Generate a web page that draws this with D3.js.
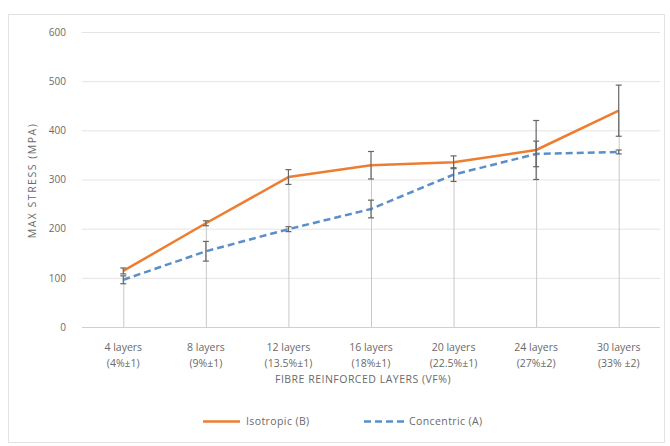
<!DOCTYPE html>
<html>
<head>
<meta charset="utf-8">
<script src="https://cdn.jsdelivr.net/npm/d3@7/dist/d3.min.js"></script>
<style>
  html, body { margin: 0; padding: 0; background: #fff; }
  svg { display: block; font-family: "Open Sans", "Liberation Sans", sans-serif; }
</style>
</head>
<body>
<svg id="chart" width="670" height="446"></svg>
<script>
// Category labels (two lines each)
const categories = ["4 layers", "8 layers", "12 layers", "16 layers", "20 layers", "24 layers", "30 layers"];
const vfLabels = ["(4%±1)", "(9%±1)", "(13.5%±1)", "(18%±1)", "(22.5%±1)", "(27%±2)", "(33% ±2)"];

// Max stress (MPa) and error bar half-widths
const isotropic = [114, 211, 305, 329, 335, 360, 440];
const isotropicErr = [6, 5, 15, 28, 13, 60, 52];
const concentric = [96, 154, 199, 240, 310, 352, 356];
const concentricErr = [8, 20, 5, 18, 14, 26, 4];

const yTicks = [0, 100, 200, 300, 400, 500, 600];

const svg = d3.select("#chart");
const margin = { left: 82, right: 660, top: 32, bottom: 327 };
const textColor = "#6a6a6a";

// chart frame
svg.append("rect")
  .attr("x", 8.5).attr("y", 14.5).attr("width", 656).attr("height", 428)
  .attr("fill", "#fff").attr("stroke", "#e3e3e3");

const x = d3.scaleBand().domain(categories).range([margin.left, margin.right]);
const y = d3.scaleLinear().domain([0, 600]).range([margin.bottom, margin.top]);
const cx = c => x(c) + x.bandwidth() / 2;

// gridlines
svg.append("g").selectAll("line").data(yTicks.filter(t => t > 0)).join("line")
  .attr("x1", margin.left).attr("x2", margin.right)
  .attr("y1", d => y(d) + 0.5).attr("y2", d => y(d) + 0.5)
  .attr("stroke", "#e4e4e4");

// y axis labels
const yAxis = svg.append("g").attr("transform", `translate(${margin.left - 16},0)`)
  .call(d3.axisLeft(y).tickValues(yTicks).tickSize(0).tickPadding(0));
yAxis.select(".domain").remove();
yAxis.selectAll("text").attr("fill", textColor).attr("font-size", 10)
  .attr("font-family", "'Open Sans', sans-serif");

// x axis line
svg.append("line")
  .attr("x1", margin.left).attr("x2", margin.right)
  .attr("y1", y(0) + 0.5).attr("y2", y(0) + 0.5)
  .attr("stroke", "#d0d0d0");

// category labels
const xl = svg.append("g");
categories.forEach((c, i) => {
  const t = xl.append("text").attr("x", cx(c)).attr("text-anchor", "middle")
    .attr("fill", textColor).attr("font-size", 10.5);
  t.append("tspan").attr("x", cx(c)).attr("y", 351).text(c);
  t.append("tspan").attr("x", cx(c)).attr("y", 367).text(vfLabels[i]);
});

// drop lines from the highest point to the axis
svg.append("g").selectAll("line").data(categories).join("line")
  .attr("x1", d => cx(d) + 0.5).attr("x2", d => cx(d) + 0.5)
  .attr("y1", (d, i) => y(Math.max(isotropic[i], concentric[i])))
  .attr("y2", y(0))
  .attr("stroke", "#c8c8c8").attr("stroke-width", 1);

const line = d3.line().x((d, i) => cx(categories[i])).y(d => y(d));

// series lines
svg.append("path").datum(isotropic).attr("d", line)
  .attr("fill", "none").attr("stroke", "#ED7D31").attr("stroke-width", 2.5)
  .attr("stroke-linejoin", "round");
svg.append("path").datum(concentric).attr("d", line)
  .attr("fill", "none").attr("stroke", "#5B8FC9").attr("stroke-width", 2.5)
  .attr("stroke-dasharray", "7,4");

// error bars
function errorBars(vals, errs) {
  const g = svg.append("g").attr("stroke", "#666").attr("stroke-width", 1.2);
  vals.forEach((v, i) => {
    const px = cx(categories[i]);
    const t = y(v + errs[i]), b = y(v - errs[i]);
    g.append("line").attr("x1", px).attr("x2", px).attr("y1", t).attr("y2", b);
    g.append("line").attr("x1", px - 3).attr("x2", px + 3).attr("y1", t).attr("y2", t);
    g.append("line").attr("x1", px - 3).attr("x2", px + 3).attr("y1", b).attr("y2", b);
  });
}
errorBars(isotropic, isotropicErr);
errorBars(concentric, concentricErr);

// axis titles
svg.append("text").attr("transform", `translate(36,${(y(0) + y(600)) / 2 + 1}) rotate(-90)`)
  .attr("text-anchor", "middle").attr("fill", textColor).attr("font-size", 10.5)
  .attr("letter-spacing", 1.5)
  .text("MAX STRESS (MPA)");
svg.append("text").attr("x", (margin.left + margin.right) / 2 - 8).attr("y", 383)
  .attr("text-anchor", "middle").attr("fill", textColor).attr("font-size", 10.5)
  .attr("letter-spacing", 0.5)
  .text("FIBRE REINFORCED LAYERS (VF%)");

// legend
const lg = svg.append("g");
lg.append("line").attr("x1", 203).attr("x2", 240).attr("y1", 421.5).attr("y2", 421.5)
  .attr("stroke", "#ED7D31").attr("stroke-width", 2.5);
lg.append("text").attr("x", 246).attr("y", 425).attr("fill", textColor).attr("font-size", 10.5)
  .attr("letter-spacing", 0.4)
  .text("Isotropic (B)");
lg.append("line").attr("x1", 364).attr("x2", 404).attr("y1", 421.5).attr("y2", 421.5)
  .attr("stroke", "#5B8FC9").attr("stroke-width", 2.5).attr("stroke-dasharray", "7,4");
lg.append("text").attr("x", 409).attr("y", 425).attr("fill", textColor).attr("font-size", 10.5)
  .attr("letter-spacing", 0.4)
  .text("Concentric (A)");
</script>
</body>
</html>
